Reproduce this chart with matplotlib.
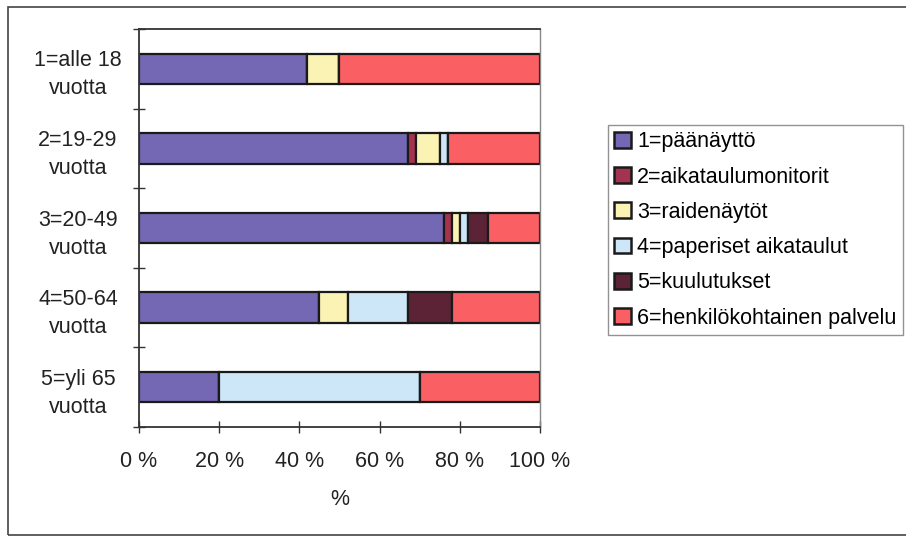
import matplotlib
matplotlib.use("Agg")
import matplotlib.pyplot as plt
from matplotlib.patches import Rectangle
import numpy as np

plt.rcParams['font.family'] = ['Liberation Sans', 'DejaVu Sans']

categories = ["1=alle 18\nvuotta", "2=19-29\nvuotta", "3=20-49\nvuotta",
              "4=50-64\nvuotta", "5=yli 65\nvuotta"]
series_names = ["1=päänäyttö", "2=aikataulumonitorit", "3=raidenäytöt",
                "4=paperiset aikataulut", "5=kuulutukset",
                "6=henkilökohtainen palvelu"]
paanaytto = [42, 67, 76, 45, 20]
monitorit = [0, 2, 2, 0, 0]
raidenaytot = [8, 6, 2, 7, 0]
paperiset = [0, 2, 2, 15, 50]
kuulutukset = [0, 0, 5, 11, 0]
henkilokohtainen = [50, 23, 13, 22, 30]
xtick_values = [0, 20, 40, 60, 80, 100]
xtick_labels = ["0 %", "20 %", "40 %", "60 %", "80 %", "100 %"]

series = [paanaytto, monitorit, raidenaytot, paperiset, kuulutukset, henkilokohtainen]
colors = ['#7468b4', '#a3334f', '#fbf3b4', '#cde6f8', '#5c2236', '#fa5f63']

FS = 15.5

fig = plt.figure(figsize=(9.06, 5.36), dpi=100)
ax = fig.add_axes([139/906, 1-427/536, 401/906, 398/536])

# outer chart border
fig.patches.append(Rectangle((8/906, 1-535/536), 1.2, (535-7)/536,
                             transform=fig.transFigure, fill=False,
                             edgecolor='#444444', linewidth=1.2))

y = np.arange(len(categories))
left = np.zeros(len(categories))
handles = []
for vals, col, name in zip(series, colors, series_names):
    vals = np.array(vals, dtype=float)
    b = ax.barh(y, vals, left=left, height=0.38, color=col,
                edgecolor='#1a1a1a', linewidth=1.6, label=name)
    handles.append(b)
    left += vals

ax.set_xlim(0, 100)
ax.set_ylim(len(categories) - 0.5, -0.5)

ax.set_xticks(xtick_values)
ax.set_xticklabels(xtick_labels, fontsize=FS, color='#222222')
ax.tick_params(axis='x', direction='inout', length=9, width=1.0, pad=13,
               color='#333333')

ax.set_yticks(y)
ax.set_yticklabels(categories, fontsize=FS, color='#222222', linespacing=1.44)
ax.tick_params(axis='y', which='major', length=0, pad=44)
for lbl in ax.get_yticklabels():
    lbl.set_horizontalalignment('center')
ax.set_yticks(np.arange(len(categories) + 1) - 0.5, minor=True)
ax.tick_params(axis='y', which='minor', direction='inout', length=9,
               width=1.0, color='#333333')

ax.set_xlabel('%', fontsize=FS, color='#222222', labelpad=12)

for side in ['left', 'bottom', 'top']:
    ax.spines[side].set_color('#333333')
    ax.spines[side].set_linewidth(1.3)
ax.spines['right'].set_color('#888888')
ax.spines['right'].set_linewidth(1.0)

leg = fig.legend(handles=handles, labels=series_names, loc='upper left',
                 bbox_to_anchor=(608/906, 1-125/536), bbox_transform=fig.transFigure,
                 borderaxespad=0, fontsize=FS, frameon=True, fancybox=False,
                 edgecolor='#777777', handlelength=0.75, handleheight=0.75,
                 handletextpad=0.3, labelspacing=0.66, borderpad=0.3)
leg.get_frame().set_linewidth(1.0)
for p in leg.get_patches():
    p.set_linewidth(1.8)

fig.savefig('out.png', dpi=100, facecolor='white')
